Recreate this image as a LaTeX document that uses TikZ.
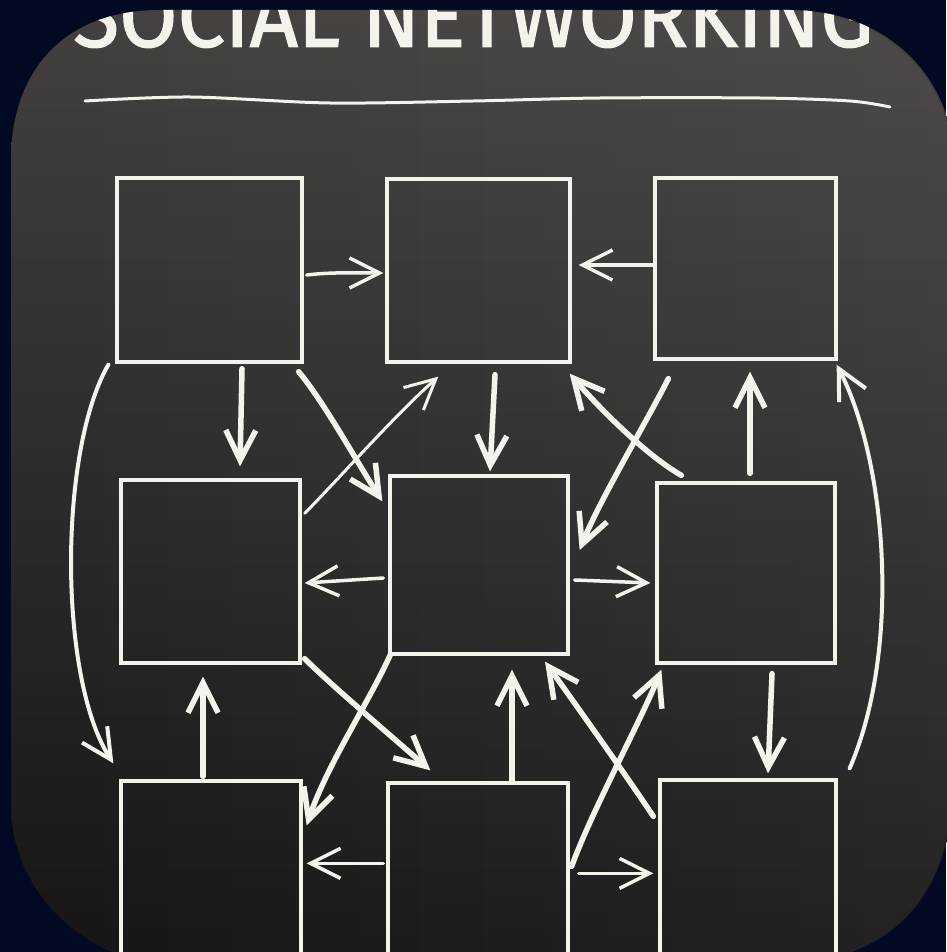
\documentclass[tikz,border=0pt]{standalone}
\usepackage{fontspec}
\usepackage{graphicx}
\usetikzlibrary{arrows.meta,fadings}
\newfontfamily\titlefont{Fira Sans}[FakeBold=1.5]
\definecolor{navy}{RGB}{1,10,34}
\definecolor{chalk}{RGB}{245,242,235}
\definecolor{boardtop}{RGB}{68,64,64}
\definecolor{boardmid}{RGB}{34,31,31}
\definecolor{boardbot}{RGB}{22,20,20}
\tikzfading[name=rightlight, left color=transparent!100, right color=transparent!0]
\newcommand\boardshape{(11,160) .. controls (11,70) and (65,10) .. (160,10) -- (790,10) .. controls (885,10) and (955,75) .. (955,170) -- (955,770) .. controls (955,895) and (895,965) .. (770,965) -- (175,965) .. controls (90,965) and (11,895) .. (11,805) -- cycle}
\begin{document}
\begin{tikzpicture}[x=1pt,y=-1pt,
  box/.style={draw=chalk, line width=3.3pt, inner sep=0pt, rectangle},
  arr/.style={draw=chalk, line width=#1, line cap=round, -{Straight Barb[length=30pt,width=30pt]}},
  arr/.default=5.5pt]
\useasboundingbox (0,0) rectangle (946,952);
\fill[navy] (0,0) rectangle (946,952);
\shade[top color=boardtop, middle color=boardmid, bottom color=boardbot] \boardshape;
\fill[white, fill opacity=0.06, path fading=rightlight] \boardshape;
\begin{scope}
\clip \boardshape;
\node[anchor=south west, inner sep=0pt, text=chalk] (title) at (73,48) {\resizebox{800pt}{62pt}{\titlefont SOCIAL NETWORKING}};
\draw[chalk, line width=3pt, line cap=round] plot[smooth] coordinates {(85,101) (190,97) (330,103) (473,101) (600,98) (760,98) (850,101) (890,107)};
% boxes
\node[box, minimum width=185pt, minimum height=184pt] (tl) at (209.5,270) {};
\node[box, minimum width=183pt, minimum height=183pt] (tm) at (478.5,270.5) {};
\node[box, minimum width=181pt, minimum height=181pt] (tr) at (745.5,268.5) {};
\node[box, minimum width=179pt, minimum height=183pt] (ml) at (210.5,571.5) {};
\node[box, minimum width=178pt, minimum height=178pt] (mm) at (479,565) {};
\node[box, minimum width=178pt, minimum height=180pt] (mr) at (746,573) {};
\node[box, minimum width=180pt, minimum height=219pt] (bl) at (211,890.5) {};
\node[box, minimum width=180pt, minimum height=217pt] (bm) at (478,891.5) {};
\node[box, minimum width=176pt, minimum height=220pt] (br) at (748,890) {};
% arrows
\draw[arr=3.5pt] ([shift={(3,5)}]tl.east) .. controls +(25,-3) and +(-30,0) .. ([shift={(-2,2.5)}]tm.west);
\draw[arr=3.5pt] ([shift={(0,-3.5)}]tr.west) -- ([shift={(7,-5.5)}]tm.east);
\draw[arr] ([shift={(32.5,5)}]tl.south) -- ([shift={(29.5,-12)}]ml.north);
\draw[arr] ([shift={(-5,8)}]tl.south east) .. controls +(25,30) and +(-27,-42) .. ([shift={(-6,27)}]mm.north west);
\draw[arr=3pt] ([shift={(3,35)}]ml.north east) .. controls +(30,-30) and +(-45,40) .. ([shift={(53,13)}]tm.south west);
\draw[arr] ([shift={(16.5,11)}]tm.south) -- ([shift={(11,-3)}]mm.north);
\draw[arr] ([shift={(26,-6)}]mr.north west) .. controls +(-35,-20) and +(30,35) .. ([shift={(-2,10)}]tm.south east);
\draw[arr] ([shift={(15,18)}]tr.south west) .. controls +(-20,40) and +(20,-50) .. ([shift={(10,-15)}]mm.east);
\draw[arr] ([shift={(4,-8)}]mr.north) -- ([shift={(4.5,11)}]tr.south);
\draw[arr=4pt] ([shift={(12,-10)}]br.north east) .. controls +(52,-120) and +(50,97) .. ([shift={(-1,4)}]tr.south east);
\draw[arr=4pt] ([shift={(-7,1)}]tl.south west) .. controls +(-50,87) and +(-55,-85) .. ([shift={(-6,-16)}]bl.north west);
\draw[arr=3.5pt] ([shift={(-5,13)}]mm.west) -- ([shift={(3,11.5)}]ml.east);
\draw[arr=3.5pt] ([shift={(5,15)}]mm.east) -- ([shift={(-5,10)}]mr.west);
\draw[arr] ([shift={(3,-6)}]ml.south east) .. controls +(25,25) and +(-40,-35) .. ([shift={(44,-11)}]bm.north west);
\draw[arr] ([shift={(2,-1)}]mm.south west) .. controls +(-20,45) and +(20,-60) .. ([shift={(4,46)}]bl.north east);
\draw[arr] ([shift={(-8,-3)}]bl.north) -- ([shift={(-7.5,12)}]ml.south);
\draw[arr=3.5pt] ([shift={(-3,82)}]bm.north west) -- ([shift={(4,84)}]bl.north east);
\draw[arr] ([shift={(34,-1)}]bm.north) -- ([shift={(33,14)}]mm.south);
\draw[arr] ([shift={(-5,38)}]br.north west) .. controls +(-30,-45) and +(25,35) .. ([shift={(66,6)}]mm.south);
\draw[arr] ([shift={(2,85)}]bm.north east) .. controls +(20,-55) and +(-20,50) .. ([shift={(6,5)}]mr.south west);
\draw[arr=3.5pt] ([shift={(9,92)}]bm.north east) -- ([shift={(-5,95)}]br.north west);
\draw[arr] ([shift={(26,9)}]mr.south) -- ([shift={(20,-5)}]br.north);
\end{scope}
\end{tikzpicture}
\end{document}
